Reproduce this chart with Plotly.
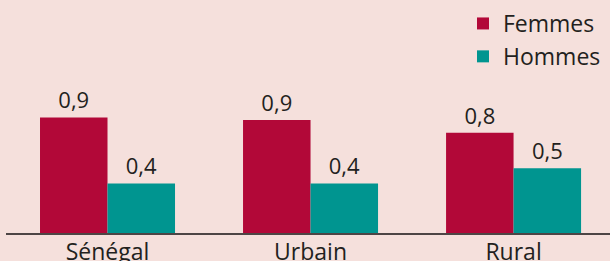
import plotly.graph_objects as go

categories = ["Sénégal", "Urbain", "Rural"]
femmes = [0.91, 0.89, 0.79]
hommes = [0.39, 0.39, 0.51]

bg = "#f5e0dc"
red = "#b20838"
teal = "#009590"
txt = "#231f20"
font = "Open Sans"

fig = go.Figure()
fig.add_trace(go.Bar(name="Femmes", x=categories, y=femmes, marker_color=red,
                     marker_line_width=0, texttemplate="%{y:.1f}", textposition="outside",
                     textfont=dict(size=22, color=txt, family=font), cliponaxis=False))
fig.add_trace(go.Bar(name="Hommes", x=categories, y=hommes, marker_color=teal,
                     marker_line_width=0, texttemplate="%{y:.1f}", textposition="outside",
                     textfont=dict(size=22, color=txt, family=font), cliponaxis=False))

PLOT_H = 233
fig.update_layout(
    width=610, height=261,
    margin=dict(l=6, r=0, t=0, b=28, autoexpand=False),
    paper_bgcolor=bg, plot_bgcolor=bg,
    barmode="group", bargap=0.335, bargroupgap=0,
    separators=", ",
    font=dict(family=font, color=txt, size=20),
    showlegend=True,
    legend=dict(x=1 - 4 / 604, xanchor="right", y=1 - 2 / PLOT_H, yanchor="top",
                bgcolor="rgba(0,0,0,0)", font=dict(size=23, color=txt, family=font),
                tracegroupgap=0, indentation=-8),
    xaxis=dict(range=[-0.5, 2.475], showline=True, linecolor="#4d4545", linewidth=1.5,
               ticks="", showgrid=False, zeroline=False, automargin=False,
               ticklabelstandoff=-2,
               tickfont=dict(size=23, color=txt, family=font)),
    yaxis=dict(range=[0, PLOT_H / 127], visible=False, showgrid=False, zeroline=False,
               automargin=False),
)

fig.write_html("out.html", config={"displayModeBar": False},
               post_script="document.body.style.margin='0';document.body.style.overflow='hidden';")
